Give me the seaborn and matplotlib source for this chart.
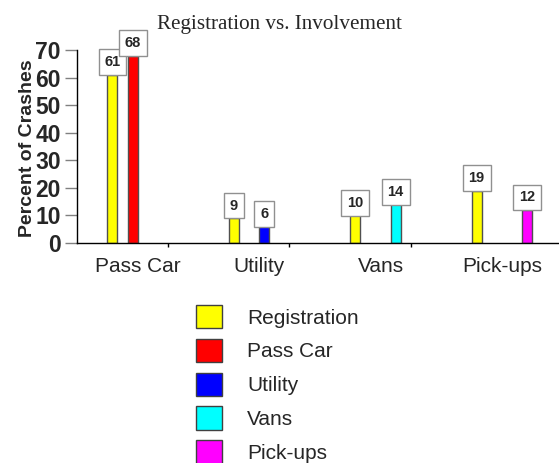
import matplotlib
matplotlib.use("Agg")
import matplotlib.pyplot as plt
from matplotlib.patches import Patch
import seaborn as sns
import pandas as pd

# Data: share of registrations vs. share of crash involvement, by vehicle type
categories = ["Pass Car", "Utility", "Vans", "Pick-ups"]
registration = [61, 9, 10, 19]
involvement = [68, 6, 14, 12]

series_names = ["Registration", "Pass Car", "Utility", "Vans", "Pick-ups"]
series_colors = ["#FFFF00", "#FF0000", "#0000FF", "#00FFFF", "#FF00FF"]

rows = []
for cat, reg, inv in zip(categories, registration, involvement):
    rows.append({"vehicle": cat, "series": "Registration", "pct": reg})
    rows.append({"vehicle": cat, "series": cat, "pct": inv})
df = pd.DataFrame(rows)

# an empty hue slot keeps the space between the registration bar and the others
hue_order = ["Registration", "_spacer"] + categories
palette = dict(zip(series_names, series_colors))
palette["_spacer"] = "#FFFFFF"

sns.set_style("white")
plt.rcParams["font.family"] = ["Liberation Sans", "DejaVu Sans"]

fig = plt.figure(figsize=(5.59, 4.63), dpi=100)
ax = fig.add_axes([77 / 559, 220 / 463, 482 / 559, 193 / 463])

sns.barplot(data=df, x="vehicle", y="pct", hue="series", order=categories,
            hue_order=hue_order, palette=palette, width=0.5, gap=0,
            errorbar=None, edgecolor="#505050", linewidth=1, legend=False,
            saturation=1, ax=ax)

for cont in ax.containers:
    ax.bar_label(cont, fmt="{:.0f}", padding=4.0, fontsize=10.5,
                 fontweight="bold", clip_on=False,
                 bbox=dict(boxstyle="square,pad=0.4", fc="white",
                           ec="#909090", lw=1))

ax.set_xlim(-0.5, 3.47)
ax.set_ylim(0, 70)
ax.set_yticks(range(0, 71, 10))
ax.set_xlabel("")
ax.set_ylabel("Percent of Crashes", fontsize=14, fontweight="bold")
ax.yaxis.set_label_coords(-0.085, 0.49)

for s in ("top", "right"):
    ax.spines[s].set_visible(False)
for s in ("left", "bottom"):
    ax.spines[s].set_color("black")
    ax.spines[s].set_linewidth(1)

ax.tick_params(axis="y", which="major", length=8.6, width=1, color="#808080",
               pad=3.0, labelsize=16.5, left=True)
for lab in ax.get_yticklabels():
    lab.set_fontweight("bold")
ax.tick_params(axis="x", which="major", length=0, pad=10, labelsize=15)
ax.set_xticks([0.25, 1.25, 2.25], minor=True)
ax.tick_params(axis="x", which="minor", length=3, width=1, color="black",
               direction="out", bottom=True)

fig.text(0.5, 1 - 29 / 463, "Registration vs. Involvement",
         ha="center", va="baseline", fontsize=15.2,
         family=["Liberation Serif", "DejaVu Serif"])

handles = [Patch(facecolor=c, edgecolor="#404040", lw=1) for c in series_colors]
fig.legend(handles, series_names, loc="upper left",
           bbox_to_anchor=(196 / 559, 1 - 305 / 463), frameon=False,
           borderpad=0, borderaxespad=0, handlelength=1.25, handleheight=1.35,
           handletextpad=1.2, labelspacing=0.5, fontsize=15)

fig.savefig("out.png", dpi=100)
